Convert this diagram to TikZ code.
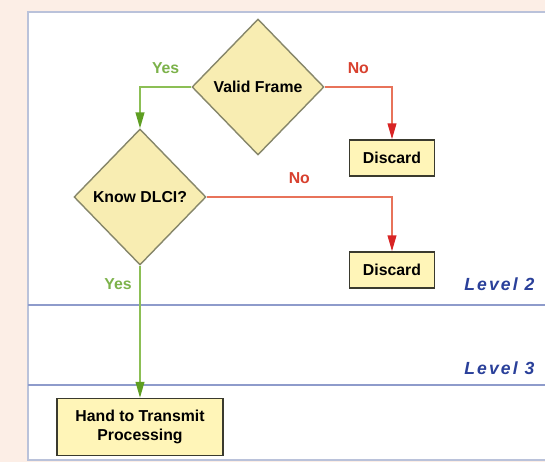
\documentclass[tikz,border=0pt]{standalone}
\usepackage{fontspec}
\setsansfont{Liberation Sans}
\usepackage{tikz}
\usetikzlibrary{arrows.meta,positioning,shapes.geometric}
\definecolor{peach}{HTML}{FCEEE6}
\definecolor{panelrim}{HTML}{BAC2DA}
\definecolor{lanerule}{HTML}{8E9BCB}
\definecolor{cream}{HTML}{F8EDB2}
\definecolor{creamrim}{HTML}{86866A}
\definecolor{boxcream}{HTML}{FFF5B8}
\definecolor{boxrim}{HTML}{3A3A2E}
\definecolor{yesline}{HTML}{8CBF55}
\definecolor{yestip}{HTML}{5E9E22}
\definecolor{yestext}{HTML}{7CB24A}
\definecolor{noline}{HTML}{E8735A}
\definecolor{notip}{HTML}{D82424}
\definecolor{notext}{HTML}{D8402E}
\definecolor{levelblue}{HTML}{2A409A}
\tikzset{
  decision/.style={
    diamond,draw=creamrim,fill=cream,line width=0.8pt,
    minimum width=2.64cm,minimum height=2.72cm,inner sep=0pt,
    font=\fontsize{9}{10}\selectfont\sffamily\bfseries
  },
  endbox/.style={
    rectangle,draw=boxrim,fill=boxcream,line width=0.9pt,
    align=center,inner sep=2pt,
    font=\fontsize{9}{11}\selectfont\sffamily\bfseries
  },
  yesflow/.style={-{Triangle[length=9pt,width=5pt,color=yestip]},draw=yesline,line width=0.8pt},
  noflow/.style={-{Triangle[length=9pt,width=5pt,color=notip]},draw=noline,line width=0.8pt},
  yeslabel/.style={text=yestext,font=\fontsize{9}{10}\selectfont\sffamily\bfseries},
  nolabel/.style={text=notext,font=\fontsize{9}{10}\selectfont\sffamily\bfseries},
  levellabel/.style={text=levelblue,anchor=west,inner sep=0pt,
    font=\fontsize{10}{11}\selectfont\sffamily\bfseries\itshape\addfontfeature{LetterSpace=12}},
  laneline/.style={draw=lanerule,line width=1.3pt}
}
\begin{document}
\begin{tikzpicture}[x=0.02cm,y=-0.02cm]
  \useasboundingbox (0,0) rectangle (545,462);
  \fill[peach] (0,0) rectangle (545,462);
  \draw[panelrim,fill=white,line width=1.3pt] (28,12) rectangle (556,460);
  \draw[laneline] (28,305) -- (556,305);
  \draw[laneline] (28,385) -- (556,385);
  \node[decision] (valid) at (258,87) {Valid Frame};
  \node[decision] (know) at (140,197) {Know DLCI?};
  \node[endbox,minimum width=1.7cm,minimum height=0.72cm] (discardone) at (392,158) {Discard};
  \node[endbox,minimum width=1.7cm,minimum height=0.72cm] (discardtwo) at (392,270) {Discard};
  \node[endbox,minimum width=3.32cm,minimum height=1.14cm] (hand) at (140,427) {Hand to Transmit\\Processing};
  \node[levellabel] (leveltwo) at (464,284) {Level 2};
  \node[levellabel] (levelthree) at (464,368) {Level 3};
  \draw[yesflow] (valid.west) -| node[yeslabel,pos=0.25,above=4pt] {Yes} (know.north);
  \draw[noflow] (valid.east) -| node[nolabel,pos=0.25,above=4pt] {No} (discardone.north);
  \draw[noflow] (know.east) -| node[nolabel,pos=0.25,above=4pt] {No} (discardtwo.north);
  \draw[yesflow] (know.south) -- node[yeslabel,pos=0.14,left=1pt] {Yes} (hand.north);
\end{tikzpicture}
\end{document}
